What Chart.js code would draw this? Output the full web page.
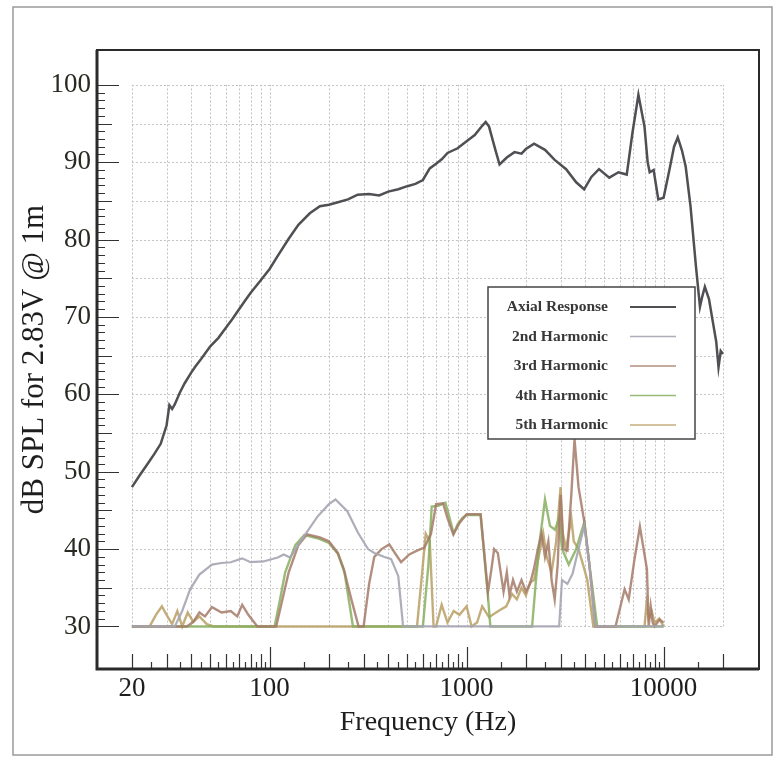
<!DOCTYPE html>
<html>
<head>
<meta charset="utf-8">
<script src="https://cdn.jsdelivr.net/npm/chart.js@4.4.0/dist/chart.umd.min.js"></script>
<style>
  html, body { margin: 0; padding: 0; background: #fff; }
  canvas { display: block; }
</style>
</head>
<body>
<canvas id="chart" width="780" height="758"></canvas>
<script>
// tick labels
const xTicks = [20, 100, 1000, 10000];
const yTicks = [30, 40, 50, 60, 70, 80, 90, 100];
const seriesNames = ["Axial Response", "2nd Harmonic", "3rd Harmonic", "4th Harmonic", "5th Harmonic"];

// axial response (Hz / dB)
const axialHz = [
  20, 22, 24, 26, 28, 30, 31, 32, 33, 35,
  37, 40, 42, 45, 50, 55, 60, 65, 70, 75,
  80, 90, 100, 110, 125, 140, 160, 180, 200, 220,
  250, 280, 320, 360, 400, 450, 500, 550, 600, 650,
  700, 750, 800, 900, 1000, 1100, 1200, 1250, 1300, 1400,
  1470, 1600, 1750, 1900, 2000, 2200, 2500, 2800, 3200, 3600,
  3950, 4300, 4700, 5300, 5900, 6500, 6950, 7450, 8000, 8300,
  8500, 8900, 9400, 10000, 10700, 11300, 11800, 12400, 12950, 13700,
  14600, 15300, 15700, 16200, 17000, 17800, 18500, 19000, 19500, 20000];
const axialDb = [
  48, 49.6, 51, 52.3, 53.6, 56, 58.6, 58.1, 58.7, 60.2,
  61.4, 62.8, 63.6, 64.6, 66.2, 67.3, 68.6, 69.8, 71, 72.1,
  73.1, 74.7, 76.2, 77.9, 80.1, 81.9, 83.4, 84.3, 84.5, 84.8,
  85.2, 85.8, 85.9, 85.7, 86.2, 86.5, 86.9, 87.2, 87.7, 89.2,
  89.8, 90.4, 91.2, 91.8, 92.7, 93.5, 94.7, 95.2, 94.6, 91.6,
  89.7, 90.6, 91.3, 91.1, 91.7, 92.4, 91.6, 90.3, 89.1, 87.4,
  86.5, 88.1, 89.1, 88, 88.7, 88.4, 93.8, 98.7, 94.6, 90,
  88.7, 89, 85.2, 85.4, 89, 92, 93.2, 91.5, 89.4, 84.3,
  76.5, 71.3, 72.6, 73.9, 72.3, 69.3, 66.8, 63.5, 65.6, 65.2];

// harmonics
const h2Hz = [20, 33, 36, 39.5, 44, 51, 57, 63.5, 72.6, 80,
  93, 110, 118, 127, 149, 175, 200, 216, 248, 281,
  316, 340, 380, 414, 450, 476, 2950, 3050, 3250, 3450,
  3700, 3960, 4200, 4500, 10000];
const h2Db = [30, 30, 32, 34.8, 36.7, 38, 38.2, 38.3, 38.8, 38.3,
  38.4, 38.9, 39.3, 38.9, 41.6, 44.2, 45.8, 46.4, 44.9, 42.1,
  40, 39.5, 39, 38.7, 36.5, 30, 30, 36, 35.5, 36.8,
  40, 43, 38, 30, 30];

const h3Hz = [20, 38, 41, 44, 47, 51, 57, 63.5, 68.5, 72.6,
  78, 86.7, 108, 125, 140, 155, 180, 200, 222, 238,
  260, 283, 300, 320, 340, 370, 405, 440, 465, 512,
  560, 611, 660, 700, 760, 800, 856, 923, 1000, 1070,
  1178, 1283, 1330, 1380, 1440, 1540, 1600, 1650, 1720, 1800,
  1900, 2000, 2100, 2200, 2300, 2400, 2500, 2600, 2700, 2800,
  2900, 3000, 3100, 3250, 3400, 3530, 3700, 3960, 4200, 4500,
  5700, 6340, 6650, 7100, 7580, 8230, 8400, 8600, 8800, 9000,
  9550, 10000];
const h3Db = [30, 30, 30.6, 31.8, 31.3, 32.5, 31.8, 32, 31.3, 32.8,
  31.5, 30, 30, 37, 40.5, 41.9, 41.5, 41, 39.5, 37.4,
  33.5, 30, 30, 35.5, 39, 40, 40.6, 39.2, 38.3, 39.3,
  39.8, 40.2, 42, 45.8, 45.9, 44, 41.9, 43.4, 44.5, 44.5,
  44.5, 34.4, 37, 40, 39.5, 34.5, 37, 34, 36, 34.5,
  36, 34.5, 35.5, 37.5, 40, 42, 39, 41, 36, 33.5,
  38, 47, 40, 39.8, 47, 54.2, 48, 43.5, 38, 30,
  30, 34.8, 33.5, 38.5, 42.9, 37.4, 30, 32.6, 30.5, 30,
  30.9, 30.5];

const h4Hz = [20, 106, 112, 120, 135, 150, 175, 200, 222, 240,
  265, 600, 640, 665, 720, 780, 820, 860, 900, 950,
  1000, 1178, 1283, 1320, 2150, 2250, 2350, 2500, 2650, 2810,
  2950, 3050, 3300, 3600, 3800, 3960, 4200, 4400, 4600, 10000];
const h4Db = [30, 30, 33, 37, 40.5, 41.8, 41.4, 40.8, 39.4, 37,
  30, 30, 38, 45.5, 45.6, 46, 44, 42, 43.2, 44,
  44.4, 44.4, 34, 30, 30, 36, 41, 46.4, 43, 42.5,
  44, 40, 38, 40, 42, 43.5, 38, 34, 30, 30];

const h5Hz = [20, 24.6, 26.5, 28.4, 30, 32, 34, 36, 38.4, 41,
  44, 48, 52, 560, 590, 620, 650, 680, 700, 747,
  800, 860, 920, 1000, 1060, 1130, 1200, 1300, 1450, 1590,
  1700, 1800, 1900, 2000, 2100, 2200, 2300, 2450, 2550, 2700,
  2850, 3000, 3080, 3200, 3400, 3500, 3700, 3900, 4100, 4400,
  8000, 8200, 8400, 8700, 9000, 9500, 10000];
const h5Db = [30, 30, 31.5, 32.6, 31.5, 30.3, 32, 30, 31.8, 30.6,
  31.3, 30.3, 30, 30, 36, 42, 41, 30, 30, 32.8,
  30.5, 32, 31.5, 32.6, 30, 30.5, 32.6, 31.2, 32, 32.6,
  34.2, 33.5, 35, 34, 35.7, 36, 38.5, 42, 39, 37,
  41, 48, 42, 40, 44, 41, 40, 38, 36, 30,
  30, 33, 31, 32, 30.5, 31, 30];

const serif = '"Liberation Serif", "Times New Roman", serif';
const pts = (hz, db) => hz.map((f, i) => ({ x: f, y: db[i] }));

// dotted grid only spans 20 Hz - 20 kHz and 30 - 100 dB
const gridPlugin = {
  id: 'grid',
  beforeDatasetsDraw(chart) {
    const { ctx, scales: { x, y } } = chart;
    const x0 = x.getPixelForValue(20), x1 = x.getPixelForValue(20000);
    const y0 = y.getPixelForValue(30), y1 = y.getPixelForValue(100);
    ctx.save();
    ctx.strokeStyle = '#c2c2c2';
    ctx.lineWidth = 1;
    ctx.setLineDash([2, 2]);
    ctx.beginPath();
    for (let dec = 10; dec <= 10000; dec *= 10) {
      for (let m = 1; m <= 9; m++) {
        const f = m * dec;
        if (f < 20 || f > 20000) continue;
        const px = Math.round(x.getPixelForValue(f)) + 0.5;
        ctx.moveTo(px, y0);
        ctx.lineTo(px, y1);
      }
    }
    for (let v = 30; v <= 100; v += 5) {
      const py = Math.round(y.getPixelForValue(v)) + 0.5;
      ctx.moveTo(x0, py);
      ctx.lineTo(x1, py);
    }
    ctx.stroke();
    ctx.restore();
  },
  afterDatasetsDraw(chart) {
    const { ctx, chartArea: a, scales: { x, y } } = chart;
    ctx.save();
    // axis tick marks
    ctx.strokeStyle = '#333';
    ctx.lineWidth = 1.2;
    ctx.beginPath();
    for (let v = 30; v <= 100; v++) {
      const len = v % 10 === 0 ? 22 : (v % 5 === 0 ? 15 : 8);
      const py = Math.round(y.getPixelForValue(v)) + 0.5;
      ctx.moveTo(a.left, py);
      ctx.lineTo(a.left + len, py);
    }
    for (let dec = 10; dec <= 10000; dec *= 10) {
      for (let m = 1; m < 10; m += 0.5) {
        const f = m * dec;
        if (f < 20 || f > 20000) continue;
        const len = m === 1 ? 22 : (Number.isInteger(m) ? 15 : 7);
        const px = Math.round(x.getPixelForValue(f)) + 0.5;
        ctx.moveTo(px, a.bottom);
        ctx.lineTo(px, a.bottom - len);
      }
    }
    ctx.stroke();

    // frame
    ctx.strokeStyle = '#2a2a2a';
    ctx.lineWidth = 2;
    ctx.strokeRect(a.left, a.top, a.right - a.left, a.bottom - a.top);
    ctx.lineWidth = 3;
    ctx.beginPath();
    ctx.moveTo(a.left, a.top);
    ctx.lineTo(a.left, a.bottom);
    ctx.lineTo(a.right, a.bottom);
    ctx.stroke();

    // legend box
    const bx = 488, by = 287, bw = 207, bh = 152;
    ctx.fillStyle = '#fff';
    ctx.fillRect(bx, by, bw, bh);
    ctx.strokeStyle = '#444';
    ctx.lineWidth = 1.5;
    ctx.strokeRect(bx, by, bw, bh);
    ctx.font = 'bold 15.5px ' + serif;
    ctx.textAlign = 'right';
    ctx.textBaseline = 'middle';
    chart.data.datasets.forEach((ds, i) => {
      const ry = by + 20 + i * 29.5;
      ctx.fillStyle = '#383838';
      ctx.fillText(ds.label, bx + 120, ry);
      ctx.strokeStyle = ds.borderColor;
      ctx.lineWidth = i === 0 ? 2.2 : 1.5;
      ctx.beginPath();
      ctx.moveTo(bx + 142, ry);
      ctx.lineTo(bx + 188, ry);
      ctx.stroke();
    });

    // outer page border
    ctx.strokeStyle = '#9a9a9a';
    ctx.lineWidth = 1.5;
    ctx.strokeRect(13, 7, 759, 748);
    ctx.restore();
  }
};

new Chart(document.getElementById('chart'), {
  type: 'line',
  data: {
    datasets: [
      { label: seriesNames[0], data: pts(axialHz, axialDb), borderColor: '#505054', borderWidth: 2.5 },
      { label: seriesNames[1], data: pts(h2Hz, h2Db), borderColor: 'rgba(165,165,180,0.9)', borderWidth: 2.2 },
      { label: seriesNames[2], data: pts(h3Hz, h3Db), borderColor: 'rgba(165,122,104,0.85)', borderWidth: 2.4 },
      { label: seriesNames[3], data: pts(h4Hz, h4Db), borderColor: 'rgba(135,175,95,0.85)', borderWidth: 2.4 },
      { label: seriesNames[4], data: pts(h5Hz, h5Db), borderColor: 'rgba(185,160,100,0.85)', borderWidth: 2.4 }
    ]
  },
  options: {
    responsive: false,
    animation: false,
    layout: { padding: { top: 50, right: 21, bottom: 0, left: 0 } },
    plugins: { legend: { display: false }, tooltip: { enabled: false } },
    elements: { point: { radius: 0 }, line: { tension: 0 } },
    scales: {
      x: {
        type: 'logarithmic',
        min: 13.3,
        max: 30500,
        grid: { display: false, drawTicks: false },
        border: { display: false },
        afterBuildTicks: s => { s.ticks = xTicks.map(v => ({ value: v })); },
        afterFit: s => { s.height = 89; },
        ticks: {
          autoSkip: false, maxRotation: 0, padding: 4, color: '#1e1e1e',
          font: { family: serif, size: 27 },
          callback: v => String(v)
        },
        title: {
          display: true, text: 'Frequency (Hz)', color: '#1e1e1e',
          font: { family: serif, size: 28 }, padding: { bottom: 19 }
        }
      },
      y: {
        type: 'linear',
        min: 24.5,
        max: 104.5,
        grid: { display: false, drawTicks: false },
        border: { display: false },
        afterBuildTicks: s => { s.ticks = yTicks.map(v => ({ value: v })); },
        afterFit: s => { s.width = 97; },
        ticks: {
          padding: 6, color: '#2a2a22',
          font: { family: serif, size: 27 },
          callback: v => String(v)
        },
        title: {
          display: true, text: 'dB SPL for 2.83V @ 1m', color: '#1e1e1e',
          font: { family: serif, size: 31 }, padding: { top: 16 }
        }
      }
    }
  },
  plugins: [gridPlugin]
});
</script>
</body>
</html>
